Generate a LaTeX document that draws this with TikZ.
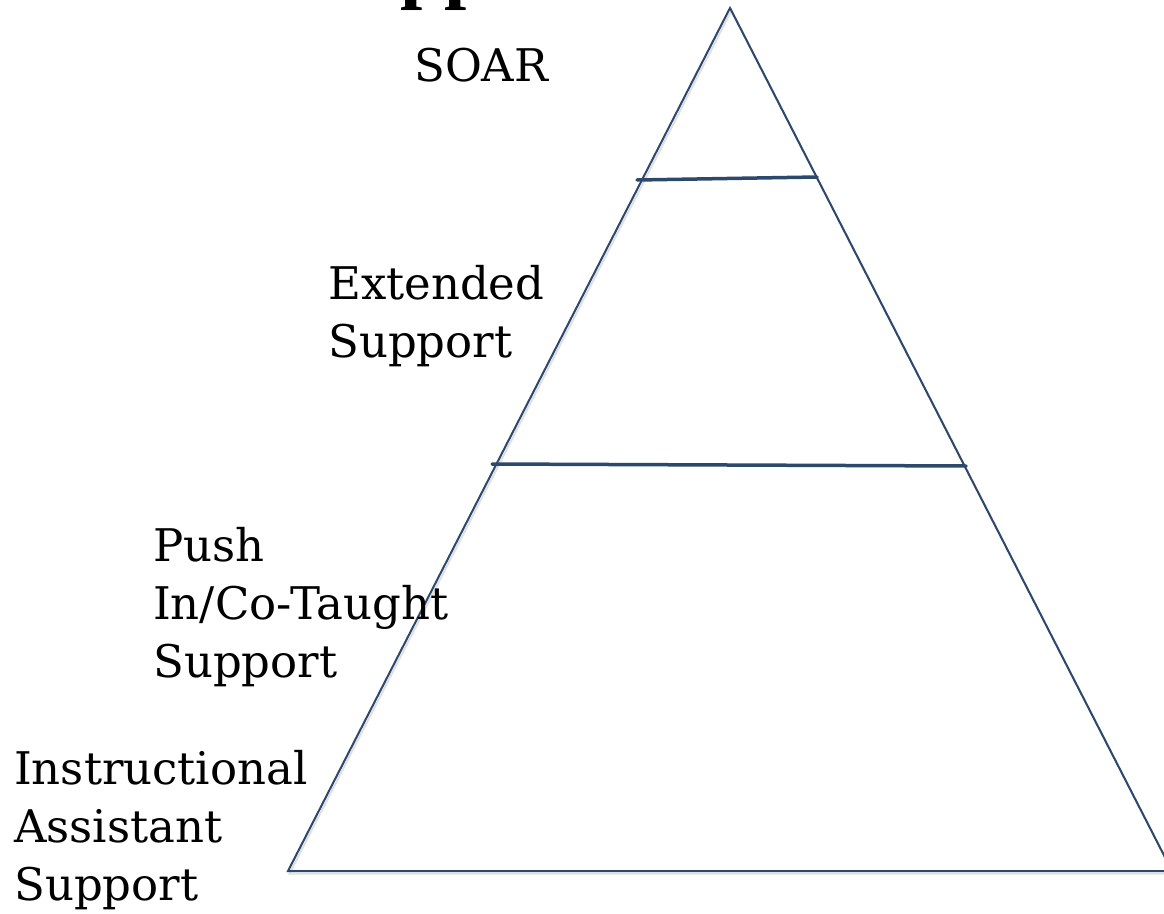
\documentclass[tikz,border=0pt]{standalone}
\usepackage{fontspec}
\setmainfont{DejaVu Serif}
\newfontfamily\titlefont{Liberation Serif}
\definecolor{tierline}{RGB}{44,72,107}
\begin{document}
\begin{tikzpicture}[x=1pt,y=-1pt]
      \useasboundingbox (0,0) rectangle (1164,913);
      \clip (0,0) rectangle (1164,913);
      % title, cut off at the top of the page
      \node[anchor=base west,inner sep=0] (title) at (400,-7) {\titlefont\bfseries\fontsize{80}{80}\selectfont pp};
      % pyramid corners and tier ends
      \coordinate (top) at (730,8);
      \coordinate (bl)  at (288,871);
      \coordinate (br)  at (1172,871);
      \coordinate (t1l) at (637,180);
      \coordinate (t1r) at (817,177);
      \coordinate (t2l) at (492,464);
      \coordinate (t2r) at (966,466);
      \begin{scope}[transform canvas={xshift=1.5pt,yshift=-2.5pt}]
        \draw[black!12,line width=2pt] (top) -- (bl) -- (br) -- cycle;
      \end{scope}
      \begin{scope}[every path/.style={draw=tierline,line cap=round}]
        \path[line width=2pt,line join=miter] (top) -- (bl) -- (br) -- cycle;
        \path[line width=3.5pt] (t1l) -- (t1r);
        \path[line width=3.5pt] (t2l) -- (t2r);
      \end{scope}
      % labels sit on the baseline of their last line
      \begin{scope}[every node/.style={anchor=base west,inner sep=0,align=left,font=\fontsize{45}{58}\selectfont}]
        \node (soar) at (414,81)  {SOAR};
        \node (ext)  at (328,357) {Extended\\Support};
        \node (push) at (153,677) {Push\\In/Co-Taught\\Support};
        \node (ias)  at (14,900)  {Instructional\\Assistant\\Support};
      \end{scope}
    \end{tikzpicture}
\end{document}
